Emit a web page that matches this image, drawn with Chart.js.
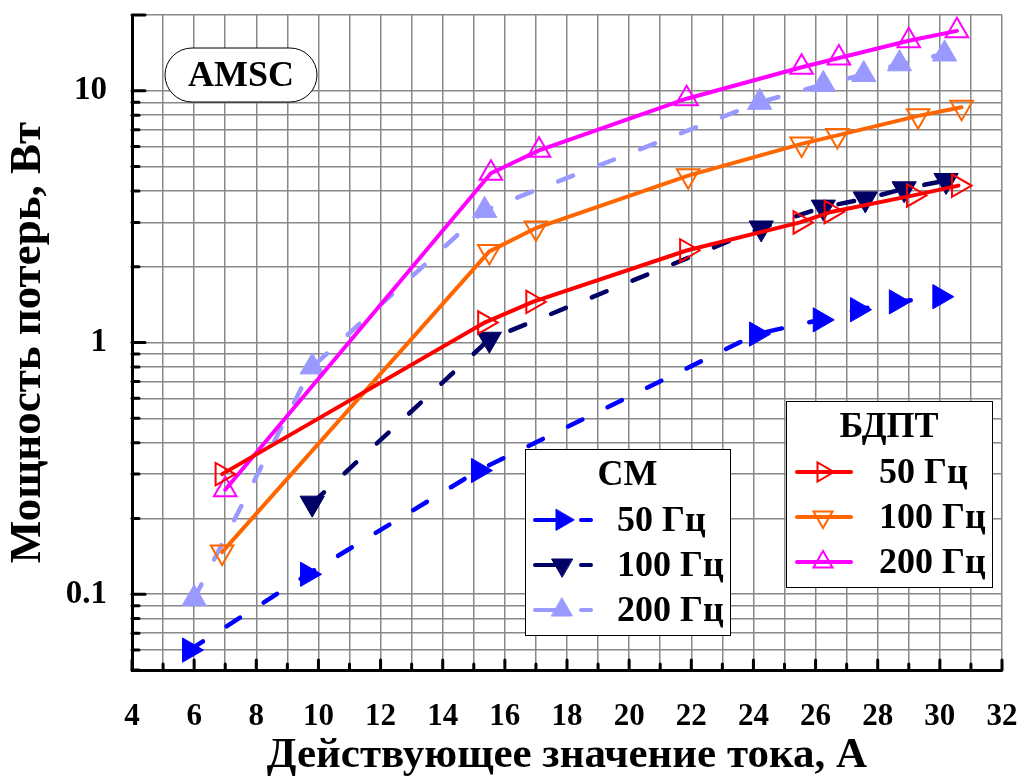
<!DOCTYPE html>
<html>
<head>
<meta charset="utf-8">
<script src="https://cdn.jsdelivr.net/npm/chart.js@4.4.1/dist/chart.umd.min.js"></script>
<style>
  html, body { margin: 0; padding: 0; background: #fff; }
  #wrap { width: 1027px; height: 778px; }
</style>
</head>
<body>
<div id="wrap"><canvas id="chart" width="1027" height="778"></canvas></div>
<script>
// СМ (dashed, filled markers)
const smX50 = [5.85, 9.65, 15.15, 24.1, 26.15, 27.35, 28.6, 30.0];
const smY50 = [0.06, 0.12, 0.31, 1.08, 1.23, 1.35, 1.45, 1.52];
const smX100 = [9.8, 15.5, 24.25, 26.25, 27.6, 28.85, 30.2];
const smY100 = [0.23, 1.03, 2.85, 3.45, 3.72, 4.08, 4.4];
const smX200 = [6.0, 9.8, 15.35, 24.2, 26.25, 27.55, 28.7, 30.15];
const smY200 = [0.096, 0.8, 3.35, 9.0, 10.6, 11.6, 12.8, 14.0];

// БДПТ (solid, open markers)
const bdX50 = [6.9, 15.35, 16.9, 21.85, 25.5, 26.5, 29.15, 30.6];
const bdY50 = [0.3, 1.2, 1.45, 2.32, 3.0, 3.3, 3.84, 4.2];
const bdX100 = [6.9, 15.5, 17.0, 21.9, 25.55, 26.7, 29.3, 30.7];
const bdY100 = [0.147, 2.3, 2.85, 4.6, 6.15, 6.65, 7.95, 8.6];
const bdX200 = [7.0, 15.55, 17.1, 21.85, 25.55, 26.75, 29.0, 30.55];
const bdY200 = [0.26, 4.7, 5.8, 9.3, 12.4, 13.5, 15.8, 17.3];

const freqLabels = ['50 Гц', '100 Гц', '200 Гц'];
const xLabelValues = [4, 6, 8, 10, 12, 14, 16, 18, 20, 22, 24, 26, 28, 30, 32];
const yLabelValues = [0.1, 1, 10];
const yGridValues = [0.05, 0.06, 0.07, 0.08, 0.09, 0.1, 0.2, 0.3, 0.4, 0.5, 0.6, 0.7, 0.8, 0.9,
                     1, 2, 3, 4, 5, 6, 7, 8, 9, 10, 20];

const FONT = "'Liberation Serif', 'Times New Roman', serif";
const pts = (xs, ys) => xs.map((x, i) => ({ x: x, y: ys[i] }));

function smSet(label, xs, ys, color, rot) {
  return {
    label: label, data: pts(xs, ys),
    borderColor: color, backgroundColor: color,
    borderWidth: 4.5, borderDash: [16, 28], borderCapStyle: 'round',
    pointStyle: 'triangle', pointRotation: rot, pointRadius: 14,
    pointBackgroundColor: color, pointBorderColor: color, pointBorderWidth: 1,
    tension: 0
  };
}
function bdSet(label, xs, ys, color, rot) {
  return {
    label: label, data: pts(xs, ys),
    borderColor: color, backgroundColor: color,
    borderWidth: 4, borderCapStyle: 'round',
    pointStyle: 'triangle', pointRotation: rot, pointRadius: 13,
    pointBackgroundColor: 'rgba(0,0,0,0)', pointBorderColor: color, pointBorderWidth: 2,
    tension: 0
  };
}

const datasets = [
  bdSet('БДПТ 50 Гц', bdX50, bdY50, '#ff0000', 90),
  bdSet('БДПТ 100 Гц', bdX100, bdY100, '#ff6600', 180),
  bdSet('БДПТ 200 Гц', bdX200, bdY200, '#ff00ff', 0),
  smSet('СМ 50 Гц', smX50, smY50, '#0000ff', 90),
  smSet('СМ 100 Гц', smX100, smY100, '#000066', 180),
  smSet('СМ 200 Гц', smX200, smY200, '#9999ff', 0)
];

// inner tick marks on the left and bottom axes
const innerTicks = {
  id: 'innerTicks',
  afterDraw(chart) {
    const ctx = chart.ctx, xs = chart.scales.x, ys = chart.scales.y;
    const a = chart.chartArea;
    ctx.save();
    ctx.strokeStyle = '#000';
    ctx.lineWidth = 3;
    ctx.lineCap = 'round';
    for (let v = 4; v <= 32; v++) {
      const px = xs.getPixelForValue(v);
      const len = v % 2 === 0 ? 10 : 6;
      ctx.beginPath(); ctx.moveTo(px, a.bottom); ctx.lineTo(px, a.bottom - len); ctx.stroke();
    }
    yGridValues.forEach(v => {
      const py = ys.getPixelForValue(v);
      const len = (yLabelValues.includes(v) || v === 20) ? 13 : 7;
      ctx.beginPath(); ctx.moveTo(a.left, py); ctx.lineTo(a.left + len, py); ctx.stroke();
    });
    ctx.restore();
  }
};

// two legend boxes + AMSC label
function drawLegendBox(ctx, box, title, items) {
  ctx.save();
  ctx.fillStyle = '#fff';
  ctx.fillRect(box.x, box.y, box.w, box.h);
  ctx.strokeStyle = '#000';
  ctx.lineWidth = 1;
  ctx.strokeRect(box.x + 0.5, box.y + 0.5, box.w, box.h);
  ctx.fillStyle = '#000';
  ctx.font = 'bold 36px ' + FONT;
  ctx.textAlign = 'center';
  ctx.textBaseline = 'middle';
  ctx.fillText(title, box.x + box.w / 2, box.titleY);
  items.forEach((it, i) => {
    const y = box.rowY + i * box.rowH;
    const ds = it.ds;
    ctx.strokeStyle = ds.borderColor;
    ctx.lineWidth = 4;
    ctx.lineCap = 'round';
    if (ds.borderDash) {
      ctx.beginPath(); ctx.moveTo(box.lx0, y); ctx.lineTo(box.mx, y); ctx.stroke();
      ctx.beginPath(); ctx.moveTo(box.lx1 - 10, y); ctx.lineTo(box.lx1, y); ctx.stroke();
    } else {
      ctx.beginPath(); ctx.moveTo(box.lx0, y); ctx.lineTo(box.lx1, y); ctx.stroke();
    }
    ctx.fillStyle = ds.pointBackgroundColor;
    ctx.strokeStyle = ds.pointBorderColor;
    ctx.lineWidth = ds.pointBorderWidth;
    Chart.helpers.drawPoint(ctx, {
      pointStyle: 'triangle', rotation: ds.pointRotation, radius: ds.pointRadius - 2,
      borderWidth: ds.pointBorderWidth
    }, box.mx, y);
    ctx.fillStyle = '#000';
    ctx.textAlign = 'left';
    ctx.fillText(it.label, box.tx, y + 2);
  });
  ctx.restore();
}

const overlays = {
  id: 'overlays',
  afterDatasetsDraw(chart) {
    const ctx = chart.ctx;
    const ds = chart.data.datasets;
    drawLegendBox(ctx, { x: 525, y: 449, w: 205, h: 186, titleY: 476, rowY: 520, rowH: 45,
                         lx0: 535, lx1: 591, mx: 562, tx: 617 },
                  'СМ', freqLabels.map((l, i) => ({ label: l, ds: ds[3 + i] })));
    drawLegendBox(ctx, { x: 786, y: 401, w: 206, h: 186, titleY: 428, rowY: 472, rowH: 45,
                         lx0: 797, lx1: 851, mx: 823, tx: 879 },
                  'БДПТ', freqLabels.map((l, i) => ({ label: l, ds: ds[i] })));
    // AMSC pill
    ctx.save();
    const x0 = 165, y0 = 48, w = 152, h = 54, r = h / 2;
    ctx.beginPath();
    ctx.moveTo(x0 + r, y0);
    ctx.lineTo(x0 + w - r, y0);
    ctx.arc(x0 + w - r, y0 + r, r, -Math.PI / 2, Math.PI / 2);
    ctx.lineTo(x0 + r, y0 + h);
    ctx.arc(x0 + r, y0 + r, r, Math.PI / 2, Math.PI * 1.5);
    ctx.closePath();
    ctx.fillStyle = '#fff';
    ctx.fill();
    ctx.strokeStyle = '#000';
    ctx.lineWidth = 1;
    ctx.stroke();
    ctx.fillStyle = '#000';
    ctx.font = 'bold 36px ' + FONT;
    ctx.textAlign = 'center';
    ctx.textBaseline = 'middle';
    ctx.fillText('AMSC', x0 + w / 2, y0 + h / 2 + 2);
    ctx.restore();
  }
};

new Chart(document.getElementById('chart'), {
  type: 'line',
  data: { datasets: datasets },
  plugins: [innerTicks, overlays],
  options: {
    responsive: false,
    animation: false,
    layout: { padding: { top: 14, right: 25, left: 0, bottom: 0 } },
    plugins: { legend: { display: false }, tooltip: { enabled: false } },
    scales: {
      x: {
        type: 'linear', min: 4, max: 32,
        afterFit(s) { s.height = 108; s.paddingLeft = 0; s.paddingRight = 0; },
        border: { color: '#000', width: 3 },
        grid: { color: '#888', lineWidth: 1.5, drawTicks: false },
        ticks: {
          stepSize: 1, autoSkip: false, maxRotation: 0, padding: 28, color: '#000',
          font: { family: FONT, size: 31, weight: 'bold' },
          callback: v => xLabelValues.includes(v) ? String(v) : ''
        },
        title: {
          display: true, text: 'Действующее значение тока, А', color: '#000',
          font: { family: FONT, size: 43, weight: 'bold', lineHeight: 1 },
          padding: { top: 0, bottom: 1 }
        }
      },
      y: {
        type: 'logarithmic', min: 0.05, max: 20,
        afterFit(s) { s.width = 132; s.paddingTop = 0; s.paddingBottom = 0; },
        afterBuildTicks(s) { s.ticks = yGridValues.map(v => ({ value: v })); },
        border: { color: '#000', width: 3 },
        grid: { color: '#888', lineWidth: 1.5, drawTicks: false },
        ticks: {
          autoSkip: false, padding: 25, color: '#000',
          font: { family: FONT, size: 33, weight: 'bold' },
          callback: v => yLabelValues.includes(v) ? String(v) : ''
        },
        title: {
          display: true, text: 'Мощность потерь, Вт', color: '#000',
          font: { family: FONT, size: 45, weight: 'bold', lineHeight: 1 },
          padding: { top: 6, bottom: 0 }
        }
      }
    }
  }
});
</script>
</body>
</html>
